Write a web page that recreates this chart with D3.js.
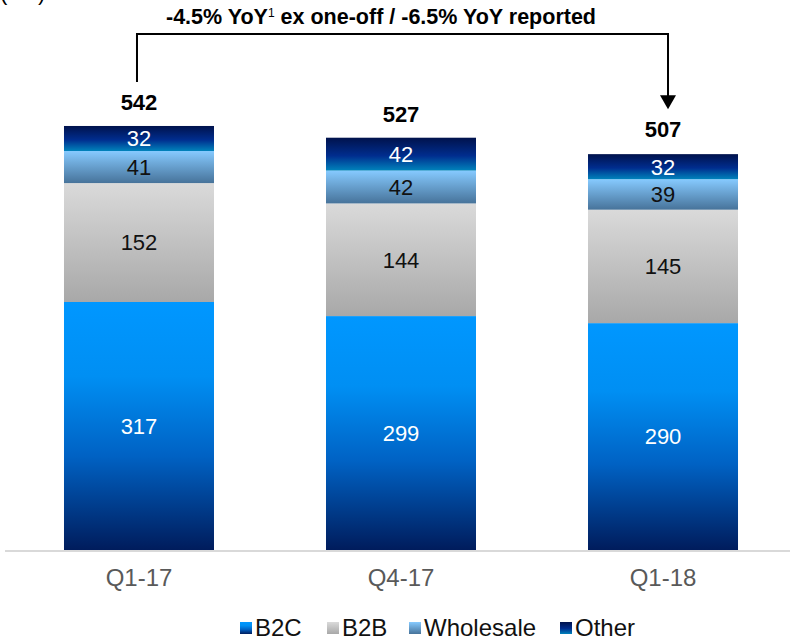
<!DOCTYPE html>
<html>
<head>
<meta charset="utf-8">
<script src="https://cdn.jsdelivr.net/npm/d3@7"></script>
<style>
  html, body { margin: 0; padding: 0; background: #fff; }
  svg { display: block; font-family: "Liberation Sans", Arial, sans-serif; }
</style>
</head>
<body>
<svg id="chart" width="790" height="639"></svg>
<script>
// Quarterly revenue split (€m)
const quarters = ["Q1-17", "Q4-17", "Q1-18"];
const seriesNames = ["B2C", "B2B", "Wholesale", "Other"];
const b2c = [317, 299, 290];
const b2b = [152, 144, 145];
const wholesale = [41, 42, 39];
const other = [32, 42, 32];
const totals = [542, 527, 507];
const unitLabel = "(€m)";
const growthNote = ["-4.5% YoY", "1", " ex one-off / -6.5% YoY reported"];

const seriesValues = { "B2C": b2c, "B2B": b2b, "Wholesale": wholesale, "Other": other };

const svg = d3.select("#chart");
const W = 790;

// Gradient fills for each series
const gradientStops = {
  "B2C": [[0, "#0097ff"], [0.3, "#008ff3"], [0.62, "#0062c4"], [1, "#001c5c"]],
  "B2B": [[0, "#dadada"], [1, "#a8a8a8"]],
  "Wholesale": [[0, "#86caff"], [1, "#47739a"]],
  "Other": [[0, "#00124c"], [0.55, "#002d8e"], [1, "#0083bb"]]
};
const textColor = { "B2C": "#ffffff", "B2B": "#111111", "Wholesale": "#111111", "Other": "#ffffff" };

const defs = svg.append("defs");
seriesNames.forEach((name, i) => {
  const g = defs.append("linearGradient")
    .attr("id", "grad" + i)
    .attr("x1", 0).attr("y1", 0).attr("x2", 0).attr("y2", 1);
  gradientStops[name].forEach(([o, c]) => g.append("stop").attr("offset", o).attr("stop-color", c));
});

// Scales
const x = d3.scaleBand()
  .domain(quarters)
  .range([8, 794])
  .paddingInner(0.4275)
  .paddingOuter(0.2137);
const y = d3.scaleLinear().domain([0, 600]).range([550, 80.6]);

// Stack data
const rows = quarters.map((q, i) => {
  const r = { quarter: q };
  seriesNames.forEach(s => r[s] = seriesValues[s][i]);
  return r;
});
const stacked = d3.stack().keys(seriesNames)(rows);

// Bars
const layers = svg.append("g").selectAll("g")
  .data(stacked)
  .join("g")
  .attr("fill", (d, i) => `url(#grad${i})`);

layers.selectAll("rect")
  .data(d => d.map(p => ({ p, key: d.key })))
  .join("rect")
  .attr("x", d => x(d.p.data.quarter))
  .attr("y", d => y(d.p[1]))
  .attr("width", x.bandwidth())
  .attr("height", d => y(d.p[0]) - y(d.p[1]));

// Segment value labels
layers.selectAll("text")
  .data(d => d.map(p => ({ p, key: d.key })))
  .join("text")
  .attr("x", d => x(d.p.data.quarter) + x.bandwidth() / 2)
  .attr("y", d => (y(d.p[0]) + y(d.p[1])) / 2)
  .attr("dy", "0.36em")
  .attr("text-anchor", "middle")
  .attr("font-size", 22)
  .attr("fill", d => textColor[d.key])
  .text(d => d.p[1] - d.p[0]);

// Totals
svg.append("g").selectAll("text")
  .data(quarters)
  .join("text")
  .attr("x", q => x(q) + x.bandwidth() / 2)
  .attr("y", (q, i) => y(totals[i]) - 16)
  .attr("text-anchor", "middle")
  .attr("font-size", 22)
  .attr("font-weight", "bold")
  .attr("fill", "#000")
  .text((q, i) => totals[i]);

// Baseline
svg.append("line")
  .attr("x1", 5).attr("x2", W)
  .attr("y1", y(0) + 1).attr("y2", y(0) + 1)
  .attr("stroke", "#d9d9d9").attr("stroke-width", 2);

// Category axis labels
const xAxis = d3.axisBottom(x).tickSize(0).tickPadding(0);
const axisG = svg.append("g").attr("transform", `translate(0,${y(0) + 19})`).call(xAxis);
axisG.select(".domain").remove();
axisG.selectAll("text")
  .attr("font-size", 24)
  .attr("font-family", "Liberation Sans, Arial, sans-serif")
  .attr("fill", "#595959");

// Unit label in the top-left corner
svg.append("text")
  .attr("x", 0).attr("y", 0)
  .attr("font-size", 22)
  .attr("fill", "#000")
  .text(unitLabel);

// Year-on-year bracket with arrow
const xl = x(quarters[0]) + x.bandwidth() / 2 - 2;
const xr = x(quarters[2]) + x.bandwidth() / 2 + 5;
const topY = 34;
const arrowTip = y(totals[2]) - 44;
svg.append("path")
  .attr("d", `M${xl},${y(totals[0]) - 44} V${topY} H${xr} V${arrowTip - 12}`)
  .attr("fill", "none")
  .attr("stroke", "#000")
  .attr("stroke-width", 2);
svg.append("path")
  .attr("d", `M${xr - 8},${arrowTip - 14} L${xr + 8},${arrowTip - 14} L${xr},${arrowTip} Z`)
  .attr("fill", "#000");

const note = svg.append("text")
  .attr("x", 381).attr("y", 24)
  .attr("text-anchor", "middle")
  .attr("font-size", 21.5)
  .attr("font-weight", "bold")
  .attr("fill", "#000");
note.append("tspan").text(growthNote[0]);
note.append("tspan").attr("font-size", 12).attr("font-weight", "normal").attr("dy", -7).text(growthNote[1]);
note.append("tspan").attr("dy", 7).text(growthNote[2]);

// Legend
const legendX = [240, 327, 409, 560];
const legend = svg.append("g").selectAll("g")
  .data(seriesNames)
  .join("g")
  .attr("transform", (d, i) => `translate(${legendX[i]},0)`);
legend.append("rect")
  .attr("x", 0).attr("y", 622)
  .attr("width", 12).attr("height", 12)
  .attr("fill", (d, i) => `url(#grad${i})`);
legend.append("text")
  .attr("x", 15).attr("y", 636)
  .attr("font-size", 24)
  .attr("fill", "#111")
  .text(d => d);
</script>
</body>
</html>
